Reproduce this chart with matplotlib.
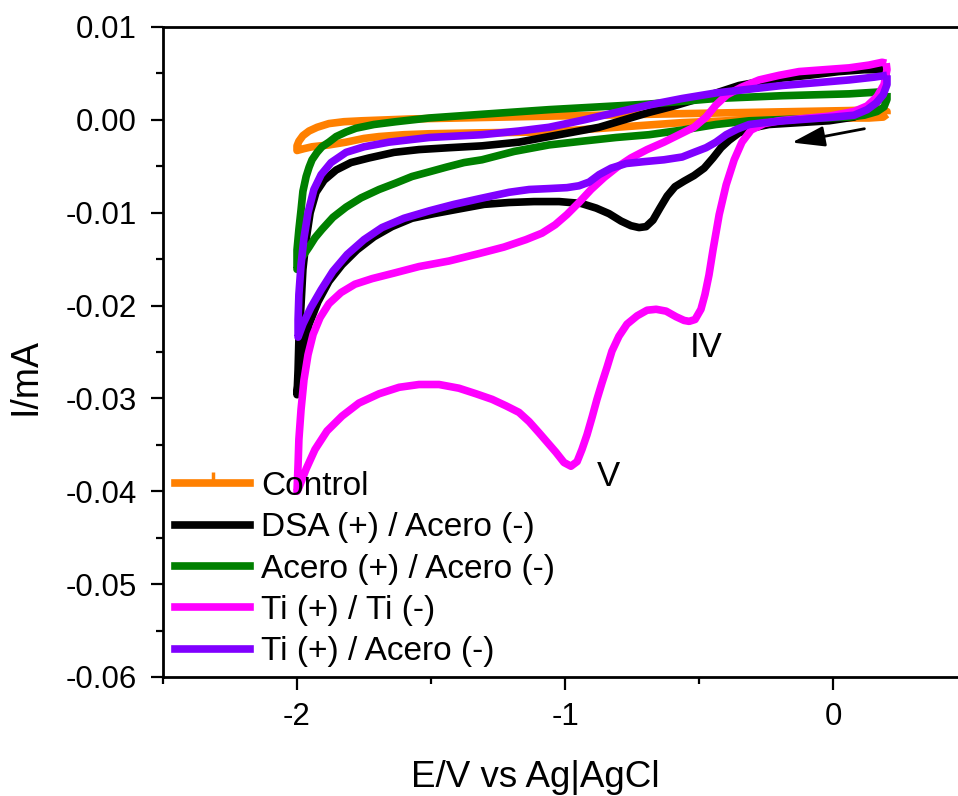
# Cyclic voltammograms - reconstruction of the reference figure
import matplotlib
matplotlib.use("Agg")
import matplotlib.pyplot as plt
from matplotlib.lines import Line2D
from matplotlib.ticker import MultipleLocator, FormatStrFormatter

plt.rcParams['font.family'] = ['Liberation Sans', 'DejaVu Sans']
plt.rcParams['axes.unicode_minus'] = False

# Control
e_control = [0.201, 0.187, 0.134, 0.060, -0.127, -0.313, -0.563, -0.810, -1.060, -1.321, -1.507, -1.601, -1.694,
             -1.750, -1.817, -1.881, -1.944, -1.974, -2.000,
             -2.000, -1.993, -1.978, -1.955, -1.925, -1.881, -1.825, -1.757, -1.571, -1.060, -0.687, -0.313,
             0.060, 0.172, 0.201, 0.201]
i_control = [0.0006, 0.0003, 0.0002, 0.0002, 0.0001, 0.0000, -0.0003, -0.0008, -0.0013, -0.0014, -0.0015, -0.0016, -0.0018,
             -0.0020, -0.0024, -0.0027, -0.0029, -0.0031, -0.0033,
             -0.0028, -0.0023, -0.0017, -0.0012, -0.0008, -0.0004, -0.0002, -0.0001, 0.0001, 0.0004, 0.0006, 0.0008,
             0.0010, 0.0011, 0.0009, 0.0006]

# DSA (+) / Acero (-)
e_dsa = [0.198, 0.194, 0.172, 0.134, 0.078, -0.015, -0.127, -0.239, -0.306, -0.351, -0.388, -0.418, -0.448, -0.481,
         -0.519, -0.556, -0.590, -0.619, -0.646, -0.672, -0.698, -0.724, -0.754, -0.791, -0.836, -0.884, -0.940, -1.022,
         -1.116, -1.209, -1.302, -1.396, -1.489, -1.571, -1.646, -1.713, -1.776, -1.832, -1.881, -1.922, -1.955, -1.978,
         -1.993, -2.000,
         -1.996, -1.993, -1.985, -1.978, -1.966, -1.951, -1.929, -1.899, -1.854, -1.799, -1.731, -1.638, -1.545, -1.433,
         -1.310, -1.172, -1.060, -0.966, -0.873, -0.780, -0.687, -0.593, -0.500, -0.425, -0.351, -0.276, -0.190, -0.090,
         0.022, 0.116, 0.198]
i_dsa = [0.0054, 0.0038, 0.0022, 0.0011, 0.0003, -0.0001, -0.0003, -0.0005, -0.0009, -0.0014, -0.0022, -0.0030, -0.0041, -0.0052,
         -0.0060, -0.0066, -0.0072, -0.0082, -0.0095, -0.0108, -0.0115, -0.0116, -0.0114, -0.0109, -0.0101, -0.0095, -0.0090, -0.0088,
         -0.0088, -0.0089, -0.0091, -0.0096, -0.0101, -0.0106, -0.0115, -0.0126, -0.0140, -0.0156, -0.0174, -0.0196, -0.0220, -0.0247,
         -0.0274, -0.0296,
         -0.0269, -0.0237, -0.0199, -0.0161, -0.0129, -0.0100, -0.0078, -0.0065, -0.0054, -0.0046, -0.0041, -0.0035, -0.0032, -0.0030,
         -0.0028, -0.0024, -0.0018, -0.0013, -0.0008, 0.0000, 0.0008, 0.0015, 0.0023, 0.0030, 0.0037, 0.0041, 0.0045, 0.0048,
         0.0052, 0.0054, 0.0054]

# Acero (+) / Acero (-)
e_acero = [0.201, 0.201, 0.190, 0.164, 0.116, 0.060, -0.127, -0.313, -0.437, -0.563, -0.687, -0.810, -0.937, -1.060,
           -1.190, -1.310, -1.377, -1.444, -1.507, -1.571, -1.631, -1.694, -1.761, -1.817, -1.866, -1.907, -1.933, -1.955,
           -1.981, -2.000,
           -2.000, -1.993, -1.985, -1.978, -1.966, -1.955, -1.944, -1.925, -1.907, -1.881, -1.854, -1.817, -1.780, -1.713,
           -1.631, -1.507, -1.310, -1.060, -0.687, -0.437, -0.190, 0.060, 0.172, 0.201]
i_acero = [0.0029, 0.0022, 0.0014, 0.0009, 0.0005, 0.0003, 0.0001, -0.0001, -0.0005, -0.0011, -0.0016, -0.0019, -0.0023, -0.0027,
           -0.0034, -0.0043, -0.0046, -0.0051, -0.0056, -0.0061, -0.0068, -0.0075, -0.0084, -0.0094, -0.0105, -0.0118, -0.0127, -0.0137,
           -0.0148, -0.0161,
           -0.0140, -0.0118, -0.0097, -0.0077, -0.0061, -0.0051, -0.0043, -0.0035, -0.0029, -0.0024, -0.0018, -0.0013, -0.0009, -0.0005,
           -0.0002, 0.0002, 0.0006, 0.0011, 0.0017, 0.0023, 0.0026, 0.0028, 0.0030, 0.0029]

# Ti (+) / Ti (-)
e_titi = [0.198, 0.201, 0.190, 0.164, 0.127, 0.078, -0.015, -0.127, -0.201, -0.257, -0.306, -0.340, -0.369, -0.399,
          -0.425, -0.448, -0.463, -0.478, -0.493, -0.515, -0.537, -0.556, -0.586, -0.623, -0.660, -0.694, -0.731, -0.769,
          -0.799, -0.825, -0.843, -0.862, -0.881, -0.899, -0.918, -0.937, -0.955, -0.978, -1.004, -1.034, -1.067, -1.097,
          -1.134, -1.172, -1.220, -1.272, -1.332, -1.396, -1.470, -1.545, -1.619, -1.694, -1.769, -1.832, -1.888, -1.933,
          -1.966, -1.993, -2.000,
          -1.996, -1.993, -1.985, -1.974, -1.959, -1.940, -1.914, -1.881, -1.836, -1.784, -1.720, -1.638, -1.545, -1.433,
          -1.321, -1.228, -1.146, -1.086, -1.037, -0.993, -0.948, -0.903, -0.854, -0.806, -0.754, -0.694, -0.631, -0.575,
          -0.519, -0.474, -0.437, -0.396, -0.343, -0.276, -0.201, -0.127, -0.034, 0.060, 0.134, 0.183, 0.198]
i_titi = [0.0061, 0.0054, 0.0038, 0.0025, 0.0015, 0.0009, 0.0004, 0.0001, -0.0001, -0.0004, -0.0011, -0.0024, -0.0043, -0.0070,
          -0.0102, -0.0140, -0.0167, -0.0188, -0.0204, -0.0215, -0.0217, -0.0216, -0.0212, -0.0206, -0.0204, -0.0205, -0.0211, -0.0220,
          -0.0233, -0.0249, -0.0266, -0.0283, -0.0301, -0.0320, -0.0339, -0.0355, -0.0368, -0.0373, -0.0369, -0.0358, -0.0347, -0.0337,
          -0.0325, -0.0315, -0.0308, -0.0301, -0.0295, -0.0289, -0.0285, -0.0285, -0.0288, -0.0295, -0.0305, -0.0319, -0.0335, -0.0355,
          -0.0376, -0.0396, -0.0400,
          -0.0371, -0.0344, -0.0312, -0.0280, -0.0253, -0.0231, -0.0213, -0.0198, -0.0186, -0.0177, -0.0171, -0.0165, -0.0158, -0.0152,
          -0.0144, -0.0137, -0.0129, -0.0122, -0.0113, -0.0102, -0.0089, -0.0075, -0.0062, -0.0051, -0.0041, -0.0032, -0.0024, -0.0016,
          -0.0008, 0.0003, 0.0016, 0.0027, 0.0035, 0.0043, 0.0048, 0.0052, 0.0054, 0.0056, 0.0059, 0.0062, 0.0061]

# Ti (+) / Acero (-)
e_tiac = [0.201, 0.201, 0.187, 0.160, 0.127, 0.078, 0.004, -0.090, -0.183, -0.257, -0.313, -0.358, -0.399, -0.437,
          -0.474, -0.519, -0.563, -0.631, -0.705, -0.772, -0.828, -0.873, -0.910, -0.948, -0.993, -1.060, -1.134, -1.209,
          -1.321, -1.414, -1.507, -1.601, -1.683, -1.750, -1.813, -1.866, -1.910, -1.948, -1.978, -1.996,
          -1.996, -1.993, -1.985, -1.974, -1.959, -1.937, -1.910, -1.873, -1.817, -1.750, -1.657, -1.507, -1.310, -1.172,
          -1.060, -0.929, -0.810, -0.687, -0.563, -0.437, -0.313, -0.190, -0.063, 0.060, 0.153, 0.201]
i_tiac = [0.0048, 0.0038, 0.0027, 0.0018, 0.0011, 0.0005, 0.0003, 0.0001, -0.0001, -0.0003, -0.0005, -0.0010, -0.0016, -0.0024,
          -0.0030, -0.0035, -0.0040, -0.0043, -0.0045, -0.0047, -0.0052, -0.0059, -0.0067, -0.0071, -0.0073, -0.0074, -0.0075, -0.0078,
          -0.0085, -0.0091, -0.0098, -0.0106, -0.0116, -0.0129, -0.0145, -0.0163, -0.0183, -0.0202, -0.0220, -0.0234,
          -0.0215, -0.0188, -0.0156, -0.0127, -0.0100, -0.0075, -0.0059, -0.0046, -0.0035, -0.0029, -0.0024, -0.0019, -0.0016, -0.0012,
          -0.0008, 0.0000, 0.0008, 0.0016, 0.0023, 0.0029, 0.0033, 0.0037, 0.0040, 0.0043, 0.0046, 0.0048]

labels = ['Control', 'DSA (+) / Acero (-)', 'Acero (+) / Acero (-)', 'Ti (+) / Ti (-)', 'Ti (+) / Acero (-)']
colors = ['#FF8000', '#000000', '#008000', '#FF00FF', '#8000FF']
curves = [(e_control, i_control), (e_dsa, i_dsa), (e_acero, i_acero), (e_titi, i_titi), (e_tiac, i_tiac)]

fig = plt.figure(figsize=(9.58, 7.96), dpi=100)
ax = fig.add_axes([163 / 958, 1 - 677 / 796, 795 / 958, 650 / 796])

for (e, i), c in zip(curves, colors):
    ax.plot(e, i, color=c, lw=5.5, solid_joinstyle='round', solid_capstyle='butt')

ax.set_xlim(-2.5, 0.466)
ax.set_ylim(-0.06, 0.01)
ax.xaxis.set_major_locator(MultipleLocator(1))
ax.xaxis.set_minor_locator(MultipleLocator(0.5))
ax.yaxis.set_major_locator(MultipleLocator(0.01))
ax.yaxis.set_minor_locator(MultipleLocator(0.005))
ax.yaxis.set_major_formatter(FormatStrFormatter('%.2f'))

ax.spines['right'].set_visible(False)
for s in ['left', 'bottom', 'top']:
    ax.spines[s].set_linewidth(2)
ax.tick_params(which='both', direction='out', width=1.6, labelsize=22.5)
ax.tick_params(which='major', length=9)
ax.tick_params(which='minor', length=5)
ax.tick_params(axis='y', pad=10)
ax.tick_params(axis='x', pad=9)

ax.set_xlabel('E/V vs Ag|AgCl', fontsize=26.5, va='top')
ax.xaxis.set_label_coords(0.468, -0.128)
ax.set_ylabel('I/mA', fontsize=27)
ax.yaxis.set_label_coords(-0.150, 0.463)

ax.annotate('', xy=(-0.164, -0.0025), xytext=(0.127, -0.0009),
            arrowprops=dict(arrowstyle='-|>,head_length=0.8,head_width=0.25', color='k', lw=2, mutation_scale=25))
ax.text(-0.474, -0.0245, 'IV', fontsize=25, ha='center', va='center')
ax.text(-0.840, -0.0384, 'V', fontsize=25, ha='center', va='center')

handles = [Line2D([], [], color=colors[0], lw=5.5, marker=2, markersize=8, mew=2.5)]
handles += [Line2D([], [], color=c, lw=5.5) for c in colors[1:]]
ax.legend(handles, labels, loc='upper left', bbox_to_anchor=(175 / 958, 1 - 471 / 796),
          bbox_transform=fig.transFigure, frameon=False, fontsize=24, borderpad=0, borderaxespad=0,
          handlelength=2.25, handletextpad=0.33, labelspacing=0.31, numpoints=1)

fig.savefig('out.png', dpi=100)
